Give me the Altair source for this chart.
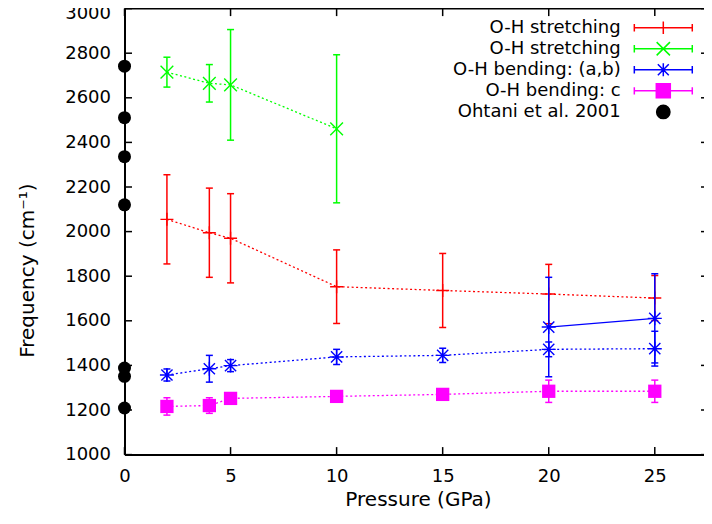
import altair as alt
import pandas as pd

# ---------------- data ----------------
y_ticks = [1000, 1200, 1400, 1600, 1800, 2000, 2200, 2400, 2600, 2800, 3000]
x_ticks = [0, 5, 10, 15, 20, 25]

red_p = [2, 4, 5, 10, 15, 20, 25]
red_f = [2055, 1995, 1970, 1753, 1736, 1720, 1702]
red_e = [200, 200, 200, 165, 166, 133, 101]

green_p = [2, 4, 5, 10]
green_f = [2715, 2665, 2658, 2461]
green_e = [67, 84, 248, 332]

blue_p = [2, 4, 5, 10, 15, 20, 25]
blue_f = [1357, 1385, 1399, 1438, 1445, 1472, 1475]
blue_e = [27, 60, 27, 34, 32, 33, 78]

blue2_p = [20, 25]
blue2_f = [1572, 1611]
blue2_e = [223, 200]

mag_p = [2, 4, 5, 10, 15, 20, 25]
mag_f = [1216, 1220, 1252, 1261, 1270, 1284, 1284]
mag_e = [39, 35, 15, 15, 15, 50, 50]

ohtani_p = [0, 0, 0, 0, 0, 0, 0]
ohtani_f = [2742, 2511, 2336, 2120, 1388, 1351, 1209]

legend_keys = ["s1", "s2", "s3", "s4", "s5"]
legend_names = ["O-H stretching", "O-H stretching", "O-H bending: (a,b)",
                "O-H bending: c", "Ohtani et al. 2001"]

# ---------------- styling ----------------
FONT = "DejaVu Sans"
W, H = 579.5, 446
XMAX = 27.32
RED, GREEN, BLUE, MAG = "#ff0000", "#00ff00", "#0000ff", "#ff00ff"

xs = alt.Scale(domain=[0, XMAX], nice=False, zero=False, padding=0)
ys = alt.Scale(domain=[1000, 3000], nice=False, zero=False, padding=0)

Y_AX = alt.Axis(values=y_ticks, format="d", ticks=False, domain=True,
                domainColor="black", domainWidth=2, grid=False,
                labelFont=FONT, labelFontSize=18, labelColor="black",
                labelPadding=14, labelFlush=False,
                labelOffset={"condition": {"test": "datum.value == 3000", "value": 4.5},
                             "value": 0},
                title="Frequency (cm⁻¹)", titleFont=FONT, titleFontSize=20,
                titleFontWeight="normal", titleColor="black",
                titleX=-97.5, titleY=261.5, titleAngle=270,
                titleAlign="center", titleBaseline="middle")
X_AX = alt.Axis(values=x_ticks, format="d", ticks=False, domain=True,
                domainColor="black", domainWidth=2, grid=False,
                labelFont=FONT, labelFontSize=18, labelColor="black",
                labelPadding=12.5, labelFlush=False, labelOverlap=False,
                title="Pressure (GPa)", titleFont=FONT, titleFontSize=20,
                titleFontWeight="normal", titleColor="black",
                titleX=293.5, titleY=50.5, titleAlign="center",
                titleBaseline="alphabetic")


def XQ(field):
    return alt.X(field, scale=xs, axis=X_AX)


def YQ(field):
    return alt.Y(field, scale=ys, axis=Y_AX)


PLUS = "M-1,0L1,0M0,-1L0,1"
XMARK = "M-1,-1L1,1M-1,1L1,-1"
STAR = "M-1,0L1,0M0,-1L0,1M-0.8,-0.8L0.8,0.8M-0.8,0.8L0.8,-0.8"

# legend samples: unit = 7 px (symbolSize 196)
ERR = "M-4.14,0L4.14,0M-4.14,-0.53L-4.14,0.53M4.14,-0.53L4.14,0.53"
leg_paths = [
    ERR + "M-0.89,0L0.89,0M0,-0.89L0,0.89",
    ERR + "M-0.95,-0.95L0.95,0.95M-0.95,0.95L0.95,-0.95",
    ERR + "M-0.92,0L0.92,0M0,-0.92L0,0.92M-0.78,-0.78L0.78,0.78M-0.78,0.78L0.78,-0.78",
    ERR + "M-1,-1L1,-1L1,1L-1,1Z",
    "M-0.95,0A0.95,0.95,0,1,1,0.95,0A0.95,0.95,0,1,1,-0.95,0Z",
]
leg_strokes = [RED, GREEN, BLUE, MAG, "black"]
leg_fills = ["transparent", "transparent", "transparent", MAG, "black"]


def series(p, f, e, color, shape, size, filled, dash):
    df = pd.DataFrame({"p": p, "f": f,
                       "lo": [a - b for a, b in zip(f, e)],
                       "hi": [a + b for a, b in zip(f, e)]})
    base = alt.Chart(df)
    line_kw = dict(color=color, strokeWidth=1.3)
    if dash:
        line_kw["strokeDash"] = dash
    line = base.mark_line(**line_kw).encode(x=XQ("p:Q"), y=YQ("f:Q"))
    bar = base.mark_rule(color=color, strokeWidth=1.5).encode(
        x=XQ("p:Q"), y=YQ("lo:Q"), y2="hi:Q")
    cap_lo = base.mark_tick(color=color, orient="horizontal", size=7,
                            thickness=1.5, opacity=1).encode(
        x=XQ("p:Q"), y=YQ("lo:Q"))
    cap_hi = base.mark_tick(color=color, orient="horizontal", size=7,
                            thickness=1.5, opacity=1).encode(
        x=XQ("p:Q"), y=YQ("hi:Q"))
    pts = base.mark_point(shape=shape, size=size, filled=filled, color=color,
                          strokeWidth=1.4, opacity=1).encode(
        x=XQ("p:Q"), y=YQ("f:Q"))
    return [line, bar, cap_lo, cap_hi, pts]


layers = []
layers += series(red_p, red_f, red_e, RED, PLUS, 169, False, [2, 2.5])
layers += series(green_p, green_f, green_e, GREEN, XMARK, 161, False, [2, 2.5])
layers += series(blue_p, blue_f, blue_e, BLUE, STAR, 196, False, [2, 2.5])
layers += series(blue2_p, blue2_f, blue2_e, BLUE, STAR, 196, False, None)
layers += series(mag_p, mag_f, mag_e, MAG, "square", 177, True, [2, 2.5])

ohtani = alt.Chart(pd.DataFrame({"p": ohtani_p, "f": ohtani_f})).mark_point(
    shape="circle", size=169, filled=True, color="black", opacity=1).encode(
    x=XQ("p:Q"), y=YQ("f:Q"))
layers.append(ohtani)

# inward tick marks and top border (gnuplot frame)
yt = pd.DataFrame({"v": y_ticks})
xt = pd.DataFrame({"v": x_ticks})
TK = dict(color="black", strokeWidth=1.5)
layers.append(alt.Chart(yt).mark_rule(**TK).encode(
    y=YQ("v:Q"), x=alt.value(0), x2=alt.value(7.5)))
layers.append(alt.Chart(yt).mark_rule(**TK).encode(
    y=YQ("v:Q"), x=alt.value(W - 3), x2=alt.value(W)))
layers.append(alt.Chart(xt).mark_rule(**TK).encode(
    x=XQ("v:Q"), y=alt.value(H), y2=alt.value(H - 7.5)))
layers.append(alt.Chart(xt).mark_rule(**TK).encode(
    x=XQ("v:Q"), y=alt.value(0), y2=alt.value(7.5)))
layers.append(alt.Chart(pd.DataFrame({"v": [0]})).mark_rule(
    color="black", strokeWidth=2).encode(
    x=alt.value(0), x2=alt.value(W), y=alt.value(0)))

# legend (gnuplot style: text right-aligned, sample on the right)
label_expr = " : ".join(
    f"datum.value == '{k}' ? '{n}'" for k, n in zip(legend_keys, legend_names)
) + " : ''"
LEG = alt.Legend(title=None, orient="none", legendX=306.2, legendY=10.1,
                 padding=0, labelFont=FONT, labelFontSize=18,
                 labelColor="black", labelLimit=400, labelAlign="right",
                 labelOffset={"expr": "-51.6"}, symbolOffset=223.6,
                 symbolSize=196, symbolStrokeWidth=1.5,
                 rowPadding=1.05, labelExpr=label_expr)
leg_layer = alt.Chart(pd.DataFrame({"k": legend_keys})).transform_filter(
    "false").mark_point(opacity=1, filled=False).encode(
    shape=alt.Shape("k:N", scale=alt.Scale(domain=legend_keys, range=leg_paths), legend=LEG),
    stroke=alt.Stroke("k:N", scale=alt.Scale(domain=legend_keys, range=leg_strokes), legend=LEG),
    fill=alt.Fill("k:N", scale=alt.Scale(domain=legend_keys, range=leg_fills), legend=LEG))
layers.append(leg_layer)

chart = alt.layer(*layers).properties(
    width=W, height=H,
    autosize=alt.AutoSizeParams(type="none"),
    padding={"left": 116.5, "top": 0.6, "right": 0, "bottom": 54.9},
    background="white",
).configure_view(stroke="transparent")

chart.save("out.html", embed_options={"renderer": "svg", "actions": False})
